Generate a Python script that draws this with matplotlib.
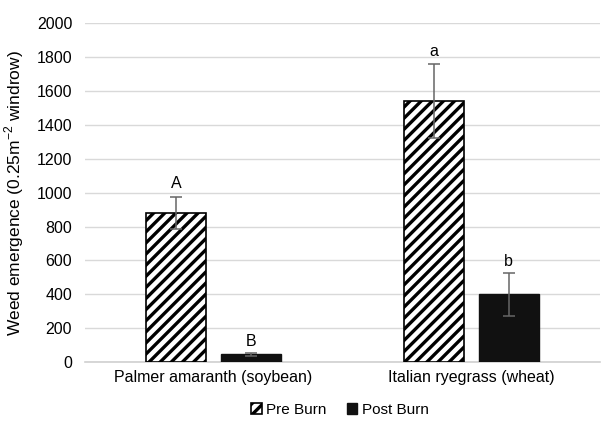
import matplotlib
matplotlib.use("Agg")
import matplotlib.pyplot as plt
import numpy as np

categories = ["Palmer amaranth (soybean)", "Italian ryegrass (wheat)"]
pre_burn = [880, 1540]
pre_err = [97, 218]
post_burn = [45, 400]
post_err = [10, 127]
pre_letters = ["A", "a"]
post_letters = ["B", "b"]
yticks = [0, 200, 400, 600, 800, 1000, 1200, 1400, 1600, 1800, 2000]

plt.rcParams['font.family'] = ['Liberation Sans', 'DejaVu Sans']
plt.rcParams['hatch.linewidth'] = 2.4

fig = plt.figure(figsize=(6.05, 4.22), dpi=100)
ax = fig.add_axes([0.14, 0.142, 0.852, 0.803])

x = np.arange(len(categories))
w = 0.233
gap = 0.058
xp = x - (w + gap) / 2
xq = x + (w + gap) / 2

ax.bar(xp, pre_burn, w, color='white', edgecolor='black', hatch='///', linewidth=1.2,
       label='Pre Burn', zorder=3)
ax.bar(xq, post_burn, w, color='#111111', edgecolor='#111111', linewidth=1,
       label='Post Burn', zorder=3)
ax.errorbar(xp, pre_burn, yerr=pre_err, fmt='none', ecolor='#666666', elinewidth=1.1,
            capsize=4, capthick=1.1, zorder=4)
ax.errorbar(xq, post_burn, yerr=post_err, fmt='none', ecolor='#666666', elinewidth=1.1,
            capsize=4, capthick=1.1, zorder=4)

for xi, v, e, t in zip(xp, pre_burn, pre_err, pre_letters):
    ax.text(xi, v + e + 30, t, ha='center', va='bottom', fontsize=11.5)
for xi, v, e, t in zip(xq, post_burn, post_err, post_letters):
    ax.text(xi, v + e + 25, t, ha='center', va='bottom', fontsize=11.5)

ax.set_ylim(0, 2000)
ax.set_xlim(-0.5, 1.5)
ax.set_yticks(yticks)
ax.set_xticks(x)
ax.set_xticklabels(categories, fontsize=11.5)
ax.tick_params(axis='y', labelsize=11.5, length=0, pad=9)
ax.tick_params(axis='x', length=0, pad=6)
ax.yaxis.grid(True, color='#d9d9d9', linewidth=1, zorder=0)
ax.set_axisbelow(True)
for s in ['top', 'right', 'left']:
    ax.spines[s].set_visible(False)
ax.spines['bottom'].set_color('#d0d0d0')
ax.spines['bottom'].set_linewidth(1.2)
ax.set_ylabel('Weed emergence (0.25m$^{\\mathregular{-2}}$ windrow)', fontsize=12.5)
ax.yaxis.set_label_coords(-0.113, 0.5)

leg = fig.legend(loc='center', bbox_to_anchor=(0.562, 0.028), ncol=2, frameon=False,
                 fontsize=11, handlelength=0.7, handleheight=0.7, handletextpad=0.3,
                 columnspacing=1.3)
fig.savefig('out.png', dpi=100)
